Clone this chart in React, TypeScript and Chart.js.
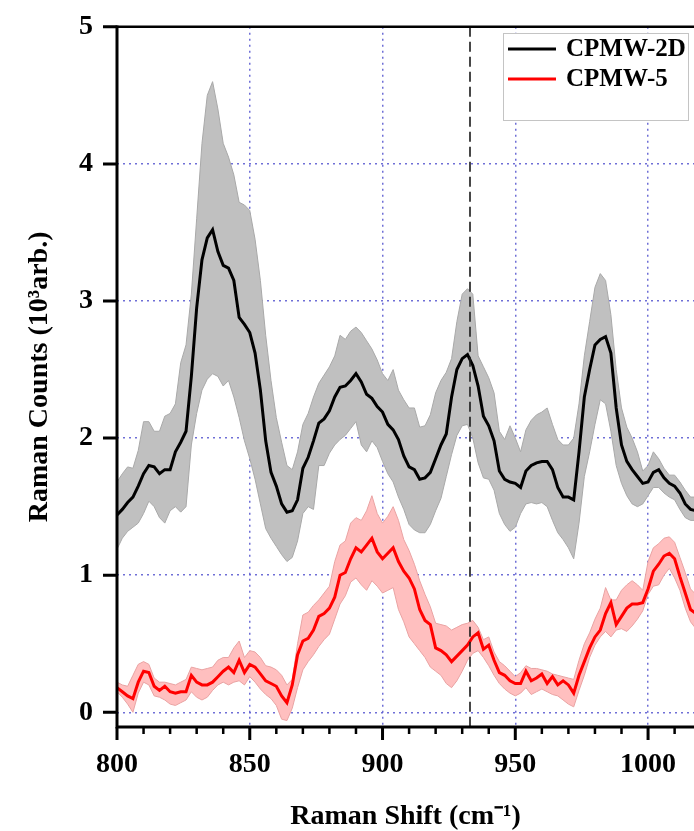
import React, { useEffect, useRef } from 'react';
import { Chart, registerables } from 'chart.js';

Chart.register(...registerables);

// Raman shift positions (cm^-1)
const ramanShift = [
  800, 802, 804, 806, 808, 810, 812, 814, 816, 818,
  820, 822, 824, 826, 828, 830, 832, 834, 836, 838,
  840, 842, 844, 846, 848, 850, 852, 854, 856, 858,
  860, 862, 864, 866, 868, 870, 872, 874, 876, 878,
  880, 882, 884, 886, 888, 890, 892, 894, 896, 898,
  900, 902, 904, 906, 908, 910, 912, 914, 916, 918,
  920, 922, 924, 926, 928, 930, 932, 934, 936, 938,
  940, 942, 944, 946, 948, 950, 952, 954, 956, 958,
  960, 962, 964, 966, 968, 970, 972, 974, 976, 978,
  980, 982, 984, 986, 988, 990, 992, 994, 996, 998,
  1000, 1002, 1004, 1006, 1008, 1010, 1012, 1014, 1016, 1018,
];

// CPMW-2D mean (10^3 arb.)
const cpmw2d = [
  1.44, 1.48, 1.53, 1.57, 1.65, 1.74, 1.80, 1.79, 1.74, 1.77,
  1.77, 1.90, 1.97, 2.05, 2.45, 2.95, 3.30, 3.46, 3.52, 3.36,
  3.26, 3.24, 3.15, 2.88, 2.83, 2.77, 2.62, 2.35, 1.98, 1.75,
  1.65, 1.52, 1.46, 1.47, 1.55, 1.78, 1.86, 1.98, 2.11, 2.14,
  2.20, 2.30, 2.37, 2.38, 2.42, 2.47, 2.41, 2.32, 2.29, 2.23,
  2.19, 2.10, 2.06, 1.99, 1.87, 1.79, 1.77, 1.70, 1.71, 1.75,
  1.85, 1.95, 2.03, 2.30, 2.50, 2.58, 2.61, 2.53, 2.38, 2.16,
  2.09, 1.98, 1.76, 1.70, 1.68, 1.67, 1.64, 1.76, 1.80, 1.82,
  1.83, 1.83, 1.77, 1.64, 1.57, 1.57, 1.55, 1.90, 2.30, 2.50,
  2.68, 2.72, 2.74, 2.62, 2.22, 1.95, 1.83, 1.77, 1.72, 1.67,
  1.68, 1.75, 1.77, 1.71, 1.67, 1.65, 1.60, 1.52, 1.48, 1.47,
];

// CPMW-2D upper band edge
const cpmw2dUpper = [
  1.68, 1.74, 1.79, 1.78, 1.91, 2.12, 2.12, 2.05, 2.05, 2.16,
  2.18, 2.25, 2.55, 2.68, 3.05, 3.60, 4.15, 4.50, 4.60, 4.40,
  4.15, 4.05, 3.92, 3.72, 3.70, 3.66, 3.45, 3.15, 2.75, 2.42,
  2.15, 1.97, 1.80, 1.77, 1.90, 2.10, 2.18, 2.30, 2.40, 2.46,
  2.52, 2.60, 2.75, 2.72, 2.78, 2.81, 2.77, 2.71, 2.65, 2.57,
  2.47, 2.42, 2.50, 2.35, 2.28, 2.22, 2.22, 2.08, 2.09, 2.17,
  2.33, 2.42, 2.48, 2.58, 2.85, 3.05, 3.09, 3.05, 2.60, 2.52,
  2.44, 2.33, 2.05, 1.99, 2.09, 2.00, 1.90, 2.06, 2.13, 2.17,
  2.19, 2.22, 2.10, 1.99, 1.95, 1.95, 2.00, 2.25, 2.60, 2.85,
  3.10, 3.20, 3.15, 2.90, 2.50, 2.22, 2.08, 2.00, 1.90, 1.76,
  1.80, 1.90, 1.85, 1.78, 1.73, 1.73, 1.68, 1.62, 1.57, 1.57,
];

// CPMW-2D lower band edge
const cpmw2dLower = [
  1.19, 1.27, 1.32, 1.35, 1.38, 1.45, 1.54, 1.50, 1.42, 1.38,
  1.47, 1.50, 1.46, 1.50, 1.95, 2.18, 2.35, 2.43, 2.47, 2.45,
  2.38, 2.42, 2.30, 2.15, 1.98, 1.85, 1.70, 1.52, 1.34, 1.27,
  1.21, 1.15, 1.10, 1.13, 1.25, 1.45, 1.50, 1.48, 1.80, 1.80,
  1.89, 1.95, 1.99, 2.02, 2.07, 2.12, 1.95, 1.90, 1.98, 1.93,
  1.83, 1.74, 1.68, 1.57, 1.48, 1.37, 1.33, 1.31, 1.31, 1.37,
  1.47, 1.56, 1.72, 1.88, 2.02, 2.09, 2.10, 2.00, 1.82, 1.71,
  1.70, 1.62, 1.45, 1.37, 1.32, 1.35, 1.45, 1.52, 1.53, 1.52,
  1.53, 1.50, 1.40, 1.31, 1.26, 1.20, 1.12, 1.38, 1.72, 1.90,
  2.10, 2.28, 2.25, 2.05, 1.80, 1.67, 1.58, 1.52, 1.50, 1.52,
  1.58, 1.64, 1.64, 1.60, 1.57, 1.55, 1.48, 1.42, 1.40, 1.40,
];

// CPMW-5 mean
const cpmw5 = [
  0.18, 0.15, 0.12, 0.10, 0.22, 0.30, 0.29, 0.19, 0.16, 0.19,
  0.15, 0.14, 0.15, 0.15, 0.27, 0.22, 0.20, 0.20, 0.22, 0.26,
  0.30, 0.33, 0.29, 0.38, 0.29, 0.35, 0.33, 0.28, 0.23, 0.21,
  0.19, 0.12, 0.07, 0.20, 0.42, 0.52, 0.54, 0.60, 0.70, 0.72,
  0.76, 0.84, 1.00, 1.02, 1.12, 1.20, 1.17, 1.22, 1.27, 1.17,
  1.12, 1.16, 1.20, 1.10, 1.03, 0.98, 0.90, 0.75, 0.67, 0.64,
  0.47, 0.45, 0.42, 0.37, 0.41, 0.45, 0.49, 0.55, 0.58, 0.46,
  0.49, 0.38, 0.29, 0.27, 0.23, 0.21, 0.21, 0.30, 0.23, 0.25,
  0.28, 0.21, 0.26, 0.20, 0.23, 0.20, 0.14, 0.27, 0.37, 0.47,
  0.55, 0.60, 0.72, 0.80, 0.64, 0.70, 0.76, 0.79, 0.79, 0.80,
  0.90, 1.03, 1.08, 1.14, 1.16, 1.12, 0.99, 0.87, 0.75, 0.72,
];

// CPMW-5 upper band edge
const cpmw5Upper = [
  0.22, 0.20, 0.19, 0.27, 0.35, 0.37, 0.35, 0.25, 0.22, 0.22,
  0.21, 0.20, 0.22, 0.24, 0.33, 0.32, 0.31, 0.32, 0.33, 0.38,
  0.40, 0.40, 0.47, 0.52, 0.40, 0.45, 0.44, 0.40, 0.34, 0.33,
  0.31, 0.27, 0.20, 0.24, 0.50, 0.71, 0.73, 0.78, 0.82, 0.87,
  0.92, 1.10, 1.22, 1.25, 1.38, 1.42, 1.40, 1.47, 1.58, 1.45,
  1.38, 1.43, 1.50, 1.40, 1.26, 1.18, 1.08, 0.96, 0.86, 0.77,
  0.65, 0.64, 0.63, 0.60, 0.62, 0.64, 0.65, 0.67, 0.62, 0.53,
  0.55, 0.44, 0.37, 0.34, 0.30, 0.26, 0.29, 0.34, 0.32, 0.32,
  0.31, 0.30, 0.28, 0.27, 0.26, 0.25, 0.24, 0.38, 0.50, 0.58,
  0.68, 0.76, 0.91, 0.82, 0.82, 0.89, 0.93, 0.96, 0.93, 0.89,
  1.10, 1.20, 1.23, 1.27, 1.28, 1.24, 1.13, 1.02, 0.90, 0.86,
];

// CPMW-5 lower band edge
const cpmw5Lower = [
  0.15, 0.11, 0.06, 0.00, 0.14, 0.22, 0.20, 0.12, 0.11, 0.09,
  0.06, 0.05, 0.07, 0.09, 0.15, 0.11, 0.09, 0.11, 0.16, 0.20,
  0.22, 0.20, 0.22, 0.23, 0.20, 0.26, 0.22, 0.17, 0.13, 0.10,
  0.05, -0.05, -0.06, 0.03, 0.18, 0.31, 0.37, 0.42, 0.48, 0.53,
  0.57, 0.68, 0.79, 0.85, 0.95, 0.98, 0.93, 0.89, 0.96, 0.92,
  0.87, 0.89, 0.91, 0.75, 0.66, 0.55, 0.50, 0.45, 0.40, 0.33,
  0.30, 0.27, 0.21, 0.18, 0.23, 0.30, 0.38, 0.43, 0.45, 0.40,
  0.34, 0.27, 0.21, 0.17, 0.14, 0.12, 0.14, 0.18, 0.13, 0.15,
  0.17, 0.15, 0.13, 0.12, 0.09, 0.06, 0.04, 0.16, 0.27, 0.40,
  0.49, 0.55, 0.59, 0.55, 0.60, 0.61, 0.59, 0.63, 0.68, 0.74,
  0.86, 0.92, 0.93, 1.00, 1.05, 0.98, 0.89, 0.76, 0.66, 0.61,
];

const seriesNames = ['CPMW-2D', 'CPMW-5'];
const xMajorTicks = [800, 850, 900, 950, 1000];
const xMinorTicks = [810, 820, 830, 840, 860, 870, 880, 890, 910, 920, 930, 940, 960, 970, 980, 990, 1010];
const yMajorTicks = [0, 1, 2, 3, 4, 5];
const xRange = [800, 1017.3];
const yRange = [-0.107, 5];
const markerShift = 933;

const FONT = "'Liberation Serif', 'Times New Roman', serif";
const GRID_BLUE = 'rgba(95, 95, 210, 0.9)';

const toPoints = (ys: number[]) => ramanShift.map((x, i) => ({ x, y: ys[i] }));

const framePlugin = {
  id: 'frame',
  afterDatasetsDraw(chart: any) {
    const { ctx, chartArea: a, scales } = chart;
    const mx = Math.round(scales.x.getPixelForValue(markerShift));
    ctx.save();
    ctx.strokeStyle = '#1a1a1a';
    ctx.lineWidth = 1.6;
    ctx.setLineDash([10, 5]);
    ctx.beginPath();
    ctx.moveTo(mx, a.top);
    ctx.lineTo(mx, a.bottom);
    ctx.stroke();
    ctx.restore();
  },
  afterDraw(chart: any) {
    const { ctx, chartArea: a, scales } = chart;
    const xs = scales.x;
    const ys = scales.y;
    ctx.save();
    ctx.setLineDash([]);
    ctx.strokeStyle = '#000';
    ctx.lineCap = 'butt';
    // top border
    ctx.lineWidth = 2.6;
    ctx.beginPath();
    ctx.moveTo(a.left, a.top);
    ctx.lineTo(a.right, a.top);
    ctx.stroke();
    // left and bottom axes
    ctx.lineWidth = 3;
    ctx.beginPath();
    ctx.moveTo(a.left, a.top - 1.3);
    ctx.lineTo(a.left, a.bottom + 1.5);
    ctx.moveTo(a.left - 1.5, a.bottom);
    ctx.lineTo(a.right, a.bottom);
    ctx.stroke();
    // y ticks
    ctx.beginPath();
    yMajorTicks.forEach((v) => {
      const py = ys.getPixelForValue(v);
      ctx.moveTo(a.left - 14, py);
      ctx.lineTo(a.left, py);
    });
    ctx.stroke();
    // x major ticks
    ctx.beginPath();
    xMajorTicks.forEach((v) => {
      const px = xs.getPixelForValue(v);
      ctx.moveTo(px, a.bottom);
      ctx.lineTo(px, a.bottom + 13);
    });
    ctx.stroke();
    // x minor ticks
    ctx.lineWidth = 2.5;
    ctx.beginPath();
    xMinorTicks.forEach((v) => {
      const px = xs.getPixelForValue(v);
      ctx.moveTo(px, a.bottom);
      ctx.lineTo(px, a.bottom + 7);
    });
    ctx.stroke();

    // legend
    const lx = 503.5;
    const ly = 33.5;
    const lw = 185;
    const lh = 87;
    ctx.fillStyle = '#fff';
    ctx.fillRect(lx, ly, lw, lh);
    ctx.strokeStyle = '#c4c4c4';
    ctx.lineWidth = 1;
    ctx.strokeRect(lx, ly, lw, lh);
    const colors = ['#000000', '#ff0000'];
    const rows = [49, 79];
    ctx.font = `bold 25px ${FONT}`;
    ctx.textBaseline = 'middle';
    ctx.textAlign = 'left';
    seriesNames.forEach((name, i) => {
      ctx.strokeStyle = colors[i];
      ctx.lineWidth = 3;
      ctx.beginPath();
      ctx.moveTo(508, rows[i]);
      ctx.lineTo(556, rows[i]);
      ctx.stroke();
      ctx.fillStyle = '#000';
      ctx.fillText(name, 566, rows[i] + 1);
    });
    ctx.restore();
  },
};

export default function App() {
  const canvasRef = useRef<HTMLCanvasElement | null>(null);

  useEffect(() => {
    document.body.style.margin = '0';
    const canvas = canvasRef.current;
    if (!canvas) return;

    const lineBase = { pointRadius: 0, pointHoverRadius: 0, tension: 0, spanGaps: true };

    const chart = new Chart(canvas, {
      type: 'line',
      data: {
        datasets: [
          { ...lineBase, label: seriesNames[0], data: toPoints(cpmw2d), borderColor: '#000000', borderWidth: 3, fill: false },
          { ...lineBase, label: seriesNames[1], data: toPoints(cpmw5), borderColor: '#ff0000', borderWidth: 3, fill: false },
          { ...lineBase, label: 'CPMW-2D upper', data: toPoints(cpmw2dUpper), borderColor: '#a9a9a9', borderWidth: 1, backgroundColor: '#c0c0c0', fill: '+1' },
          { ...lineBase, label: 'CPMW-2D lower', data: toPoints(cpmw2dLower), borderColor: '#a9a9a9', borderWidth: 1, fill: false },
          { ...lineBase, label: 'CPMW-5 upper', data: toPoints(cpmw5Upper), borderColor: '#e9a3a3', borderWidth: 1, backgroundColor: '#ffbfbf', fill: '+1' },
          { ...lineBase, label: 'CPMW-5 lower', data: toPoints(cpmw5Lower), borderColor: '#e9a3a3', borderWidth: 1, fill: false },
        ],
      },
      options: {
        animation: false,
        responsive: false,
        maintainAspectRatio: false,
        events: [],
        layout: { padding: { top: 25, left: 0, right: 0, bottom: 0 } },
        plugins: {
          legend: { display: false },
          tooltip: { enabled: false },
          filler: { drawTime: 'beforeDatasetsDraw' },
        } as any,
        scales: {
          x: {
            type: 'linear',
            position: 'bottom',
            min: xRange[0],
            max: xRange[1],
            afterFit: (scale: any) => { scale.height = 104; },
            ticks: {
              stepSize: 50,
              includeBounds: false,
              autoSkip: false,
              maxRotation: 0,
              padding: 8,
              color: '#000',
              font: { family: FONT, size: 28, weight: 'bold', lineHeight: 1.2 },
              callback: (v: any) => String(v),
            },
            grid: {
              drawTicks: true,
              tickLength: 13,
              tickColor: 'transparent',
              lineWidth: 1.5,
              color: (ctx: any) => (ctx.tick && ctx.tick.value === xRange[0] ? 'transparent' : GRID_BLUE),
            },
            border: { display: false, dash: [2, 4] },
            title: {
              display: true,
              text: 'Raman Shift (cm⁻¹)',
              color: '#000',
              font: { family: FONT, size: 28, weight: 'bold', lineHeight: 1 },
              padding: { top: 0, bottom: 0 },
            },
          },
          y: {
            type: 'linear',
            position: 'left',
            min: yRange[0],
            max: yRange[1],
            afterFit: (scale: any) => { scale.width = 117; },
            ticks: {
              stepSize: 1,
              includeBounds: false,
              padding: 10,
              color: '#000',
              font: { family: FONT, size: 28, weight: 'bold', lineHeight: 1.2 },
              callback: (v: any) => String(v),
            },
            grid: {
              drawTicks: true,
              tickLength: 14,
              tickColor: 'transparent',
              lineWidth: 1.5,
              color: (ctx: any) => (ctx.tick && ctx.tick.value === yRange[1] ? 'transparent' : GRID_BLUE),
            },
            border: { display: false, dash: [2, 4] },
            title: {
              display: true,
              text: 'Raman Counts (10³arb.)',
              color: '#000',
              font: { family: FONT, size: 28, weight: 'bold', lineHeight: 1 },
              padding: { top: 26, bottom: 0 },
            },
          },
        },
      } as any,
      plugins: [framePlugin],
    });

    return () => chart.destroy();
  }, []);

  return (
    <canvas
      ref={canvasRef}
      width={694}
      height={831}
      style={{ display: 'block', width: '694px', height: '831px' }}
    />
  );
}
